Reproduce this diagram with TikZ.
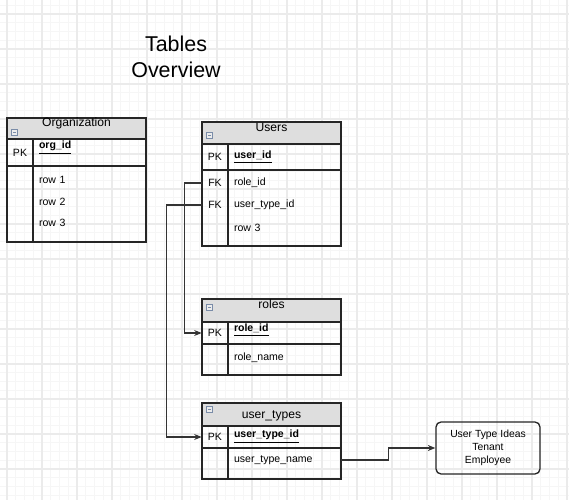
\documentclass[tikz,border=0pt]{standalone}
\usepackage{fontspec}
\setmainfont{Liberation Sans}
\usepackage{xcolor}
\usepackage{tikz}
\usetikzlibrary{arrows.meta}

\definecolor{minorline}{HTML}{F6F6F6}
\definecolor{majorline}{HTML}{EBEBEB}
\definecolor{headgray}{HTML}{DEDEDE}
\definecolor{iconblue}{HTML}{7A8CA8}

\begin{document}
\begin{tikzpicture}[x=0.02cm, y=-0.02cm,
	minorgrid/.style={draw=minorline, line width=0.4pt},
	majorgrid/.style={draw=majorline, line width=0.6pt},
	tbl/.style={draw=black!85, line width=0.75pt},
	tabletitle/.style={inner sep=0, font=\fontsize{6.9}{8}\selectfont},
	keycell/.style={inner sep=0, minimum width=0.52cm, font=\fontsize{6}{7}\selectfont},
	namecell/.style={inner xsep=0.12cm, inner ysep=0, text width=2.02cm, align=left, font=\fontsize{6}{7}\selectfont},
	icon/.style={draw=iconblue, fill=gray!15, line width=0.4pt, minimum size=0.12cm, inner sep=0,
		path picture={\draw[iconblue, line width=0.4pt] ([xshift=0.03cm]path picture bounding box.west) -- ([xshift=-0.03cm]path picture bounding box.east);}},
	fk/.style={draw=black!80, line width=0.6pt, -{Stealth[length=0.15cm, width=0.12cm]}},
	ideabox/.style={draw=black!85, line width=0.75pt, rounded corners=0.1cm, minimum width=2.08cm, minimum height=1.04cm, align=center, inner sep=0, font=\fontsize{5.9}{7.4}\selectfont},
	maintitle/.style={align=center, inner sep=0, font=\fontsize{12.2}{14.8}\selectfont}]

	% background grid
	\fill[white] (0,0) rectangle (569,500);
	\useasboundingbox (0,0) rectangle (569,500);
	\foreach \k in {0,...,64}
		\draw[minorgrid] ({7+8.75*\k},0) -- ({7+8.75*\k},500);
	\foreach \k in {-1,...,55}
		\draw[minorgrid] (0,{14+8.75*\k}) -- (569,{14+8.75*\k});
	\foreach \k in {0,...,16}
		\draw[majorgrid] ({7+35*\k},0) -- ({7+35*\k},500);
	\foreach \k in {0,...,13}
		\draw[majorgrid] (0,{14+35*\k}) -- (569,{14+35*\k});

	\node[maintitle] (title) at (176,57) {Tables\\Overview};

	% Organization
	\draw[tbl, fill=headgray] (7,118) rectangle (146,139);
	\draw[tbl] (7,139) rectangle (146,242);
	\draw[tbl] (7,166) -- (146,166);
	\draw[tbl] (33,139) -- (33,242);
	\node[tabletitle] (orgtitle) at (76.5,123) {Organization};
	\node[icon] (orgicon) at (14.5,132) {};
	\node[keycell] (opk) at (20,153) {PK};
	\node[namecell] (oid) at (89.5,148) {\underline{\textbf{org\_id}}};
	\node[namecell] (orow1) at (89.5,180) {row 1};
	\node[namecell] (orow2) at (89.5,202) {row 2};
	\node[namecell] (orow3) at (89.5,223) {row 3};

	% Users
	\draw[tbl, fill=headgray] (202,122) rectangle (341,144);
	\draw[tbl] (202,144) rectangle (341,246);
	\draw[tbl] (202,170) -- (341,170);
	\draw[tbl] (228,144) -- (228,246);
	\node[tabletitle] (userstitle) at (271.5,127) {Users};
	\node[icon] (usersicon) at (209.5,135) {};
	\node[keycell] (upk) at (215,157) {PK};
	\node[namecell] (uid) at (284.5,157) {\underline{\textbf{user\_id}}};
	\node[keycell] (ufk1) at (215,183) {FK};
	\node[namecell] (urole) at (284.5,183) {role\_id};
	\node[keycell] (ufk2) at (215,205) {FK};
	\node[namecell] (utype) at (284.5,205) {user\_type\_id};
	\node[namecell] (urow3) at (284.5,228) {row 3};

	% roles
	\draw[tbl, fill=headgray] (202,299) rectangle (341,322);
	\draw[tbl] (202,322) rectangle (341,375);
	\draw[tbl] (202,344) -- (341,344);
	\draw[tbl] (228,322) -- (228,375);
	\node[tabletitle] (rolestitle) at (271.5,304) {roles};
	\node[icon] (rolesicon) at (209.5,307.5) {};
	\node[keycell] (rpk) at (215,333) {PK};
	\node[namecell] (rid) at (284.5,330) {\underline{\textbf{role\_id}}};
	\node[namecell] (rname) at (284.5,358) {role\_name};

	% user_types
	\draw[tbl, fill=headgray] (202,403) rectangle (341,426);
	\draw[tbl] (202,426) rectangle (341,479);
	\draw[tbl] (202,448) -- (341,448);
	\draw[tbl] (228,426) -- (228,479);
	\node[tabletitle] (uttitle) at (271.5,416) {user\_types};
	\node[icon] (uticon) at (209.5,409) {};
	\node[keycell] (utpk) at (215,437) {PK};
	\node[namecell] (utid) at (284.5,437) {\underline{\textbf{user\_type\_id}}};
	\node[namecell] (utname) at (284.5,460) {user\_type\_name};

	\node[ideabox] (ideas) at (488,448) {User Type Ideas\\Tenant\\Employee};

	% connectors
	\draw[fk] (ufk1.west) -- ++(-17,0) |- (rpk.west);
	\draw[fk] (ufk2.west) -- ++(-35,0) |- (utpk.west);
	\draw[fk] (utname.east) -- ++(47,0) |- (ideas.west);
\end{tikzpicture}
\end{document}
